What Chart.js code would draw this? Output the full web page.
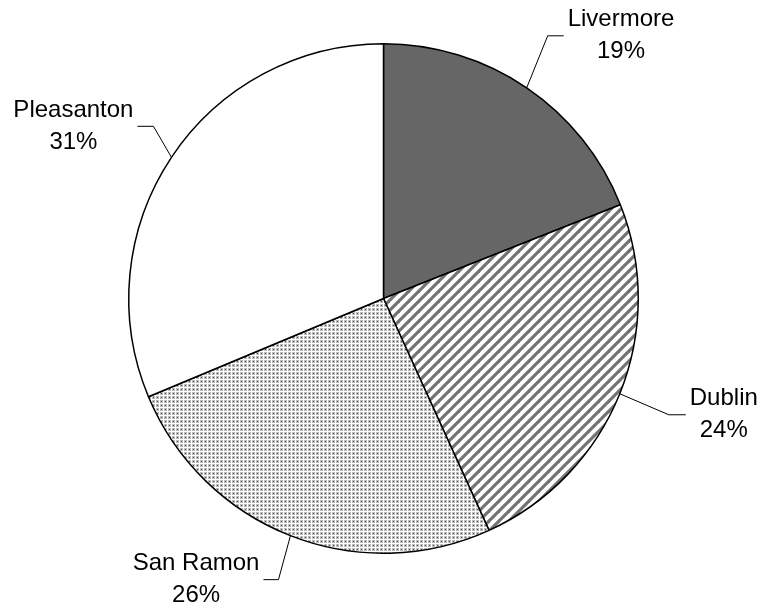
<!DOCTYPE html>
<html>
<head>
<meta charset="utf-8">
<script src="https://cdn.jsdelivr.net/npm/chart.js@4/dist/chart.umd.min.js"></script>
<style>
  body { margin: 0; background: #fff; }
  canvas { display: block; }
</style>
</head>
<body>
<canvas id="pieChart" width="760" height="608"></canvas>
<script>
// Data
const categories = ['Livermore', 'Dublin', 'San Ramon', 'Pleasanton'];
const shares = [19.0, 24.2, 25.5, 31.3];

// Leader line bends: [dx, dy] from slice edge to elbow, then horizontal tail length
const leaderBends = [[21, -52, 16], [49, 21, 17], [-12, 44, -15], [-18, -31, -16]];

// Build fill patterns like the old greyscale office charts
function makeTile(size, draw) {
    const tile = document.createElement('canvas');
    tile.width = size;
    tile.height = size;
    const tctx = tile.getContext('2d');
    draw(tctx);
    return document.createElement('canvas').getContext('2d').createPattern(tile, 'repeat');
}

const stripes = makeTile(10, (c) => {
    c.fillStyle = '#fff';
    c.fillRect(0, 0, 10, 10);
    c.strokeStyle = '#737373';
    c.lineWidth = 3.2;
    // lines run past the tile edges so the repeat has no seams
    [-10, 0, 10].forEach(x0 => {
        c.beginPath();
        c.moveTo(x0 - 4, 14);
        c.lineTo(x0 + 14, -4);
        c.stroke();
    });
});

const dots = makeTile(4, (c) => {
    c.fillStyle = '#fff';
    c.fillRect(0, 0, 4, 4);
    c.fillStyle = '#bcbcbc';
    c.fillRect(0, 0, 3, 3);
    c.fillStyle = '#505050';
    c.fillRect(1, 1, 1, 1);
});

const fills = ['#666666', stripes, dots, '#ffffff'];

// Draws category name + percent with an elbow leader line
const sliceLabels = {
    id: 'sliceLabels',
    afterDatasetsDraw(chart) {
        const ctx = chart.ctx;
        const meta = chart.getDatasetMeta(0);
        const total = shares.reduce((a, b) => a + b, 0);
        ctx.save();
        ctx.font = '24px "Liberation Sans", Arial, sans-serif';
        ctx.fillStyle = '#000';
        ctx.strokeStyle = '#000';
        ctx.lineWidth = 1;
        ctx.textAlign = 'center';
        ctx.textBaseline = 'middle';
        meta.data.forEach((arc, i) => {
            const p = arc.getProps(['x', 'y', 'startAngle', 'endAngle', 'outerRadius'], true);
            const mid = (p.startAngle + p.endAngle) / 2;
            const ex = p.x + Math.cos(mid) * p.outerRadius;
            const ey = p.y + Math.sin(mid) * p.outerRadius;
            const [dx, dy, tail] = leaderBends[i];
            const bx = ex + dx, by = ey + dy;
            const tx = bx + tail;
            ctx.beginPath();
            ctx.moveTo(ex, ey);
            ctx.lineTo(bx, by);
            ctx.lineTo(tx, by);
            ctx.stroke();

            const lines = [categories[i], Math.round(shares[i] / total * 100) + '%'];
            const w = Math.max(...lines.map(t => ctx.measureText(t).width));
            const cx = tail > 0 ? tx + 4 + w / 2 : tx - 4 - w / 2;
            ctx.fillText(lines[0], cx, by - 16);
            ctx.fillText(lines[1], cx, by + 16);
        });
        ctx.restore();
    }
};

const ctx = document.getElementById('pieChart').getContext('2d');
const pieChart = new Chart(ctx, {
    type: 'pie',
    data: {
        labels: categories,
        datasets: [{
            data: shares,
            backgroundColor: fills,
            borderColor: '#000',
            borderWidth: 1.5
        }]
    },
    options: {
        responsive: false,
        animation: false,
        events: [],
        layout: {
            padding: { left: 128, right: 121, top: 43, bottom: 54 }
        },
        plugins: {
            legend: { display: false },
            tooltip: { enabled: false }
        }
    },
    plugins: [sliceLabels]
});
</script>
</body>
</html>
